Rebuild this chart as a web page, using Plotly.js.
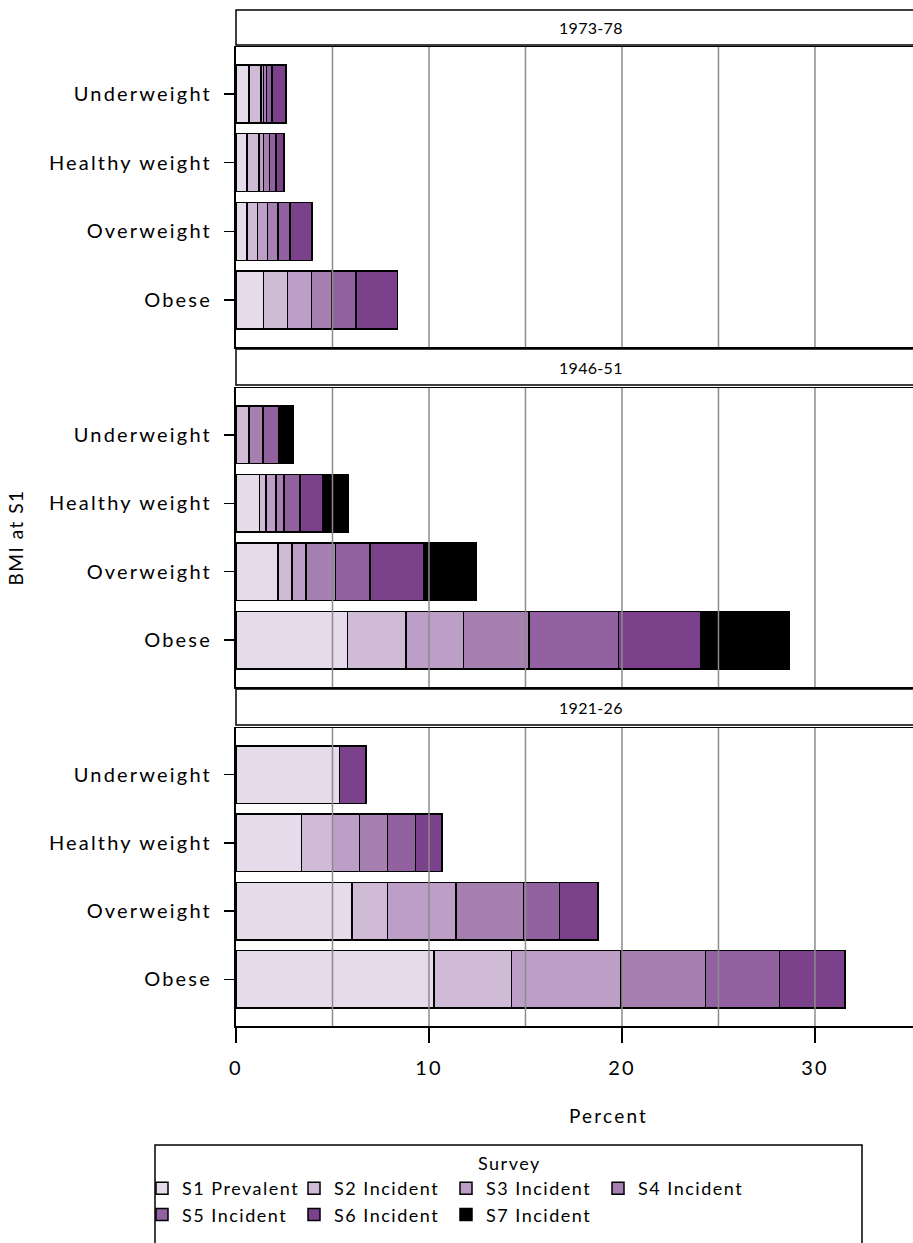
<!DOCTYPE html>
<html><head><meta charset="utf-8">
<script src="https://cdn.plot.ly/plotly-3.0.1.min.js"></script>
<style>
html,body{margin:0;padding:0;background:#fff;overflow:hidden}
text{letter-spacing:2.2px}
.legend text{letter-spacing:1.5px}
.g-y2title text{letter-spacing:1.5px}
</style></head><body>
<div id="chart" style="width:913px;height:1243px"></div>
<script>
// ---- data ----
const categories = ['Underweight', 'Healthy weight', 'Overweight', 'Obese'];
const panelLabels = ['1973-78', '1946-51', '1921-26'];
const seriesNames = ['S1 Prevalent', 'S2 Incident', 'S3 Incident', 'S4 Incident', 'S5 Incident', 'S6 Incident', 'S7 Incident'];
const seriesColors = ['#e6dbea', '#d0bbd6', '#bc9ec6', '#a680b0', '#9262a0', '#7b428b', '#000000'];
// rows = S1..S7, columns = categories
const values1973 = [
  [0.67, 0.57, 0.57, 1.42],
  [0.63, 0.63, 0.54, 1.24],
  [0.12, 0.23, 0.52, 1.26],
  [0.15, 0.30, 0.55, 1.04],
  [0.30, 0.33, 0.61, 1.25],
  [0.73, 0.43, 1.14, 2.17],
  [null, null, null, null]
];
const values1946 = [
  [null, 1.23, 2.18, 5.79],
  [0.68, 0.32, 0.73, 3.03],
  [null, 0.53, 0.72, 2.98],
  [0.73, 0.40, 1.53, 3.37],
  [0.83, 0.83, 1.78, 4.66],
  [null, 1.21, 2.78, 4.26],
  [0.75, 1.29, 2.73, 4.60]
];
const values1921 = [
  [5.35, 3.40, 6.00, 10.25],
  [null, 1.60, 1.85, 4.02],
  [null, 1.40, 3.55, 5.69],
  [null, 1.45, 3.50, 4.37],
  [null, 1.46, 1.87, 3.84],
  [1.38, 1.36, 1.98, 3.39],
  [null, null, null, null]
];
const xTickVals = [0, 10, 20, 30];
const gridVals = [5, 10, 15, 20, 25, 30];
const xMax = 35.08;

// ---- geometry helpers (pixels -> paper) ----
const W = 913, H = 1243, L = 236, T = 10, B = 1026;
const py = p => (B - p) / (B - T);
const px = p => (p - L) / (W - L);

const panelValues = [values1973, values1946, values1921];
const panelPix = [[47, 347], [388, 687], [728, 1026]];
const stripPix = [[10, 45], [349, 385], [689, 725]];
const axSuffix = ['', '2', '3'];

const traces = [];
const shown = {};
panelValues.forEach((vals, pi) => {
  vals.forEach((row, si) => {
    const has = row.some(v => v !== null);
    if (!has) return;
    const show = !shown[si];
    shown[si] = true;
    traces.push({
      type: 'bar', orientation: 'h',
      y: categories, x: row,
      name: seriesNames[si],
      legendgroup: seriesNames[si],
      legendrank: si + 1,
      showlegend: show,
      xaxis: 'x' + axSuffix[pi], yaxis: 'y' + axSuffix[pi],
      marker: {color: seriesColors[si], line: {color: '#000', width: 1.5}},
      hovertemplate: panelLabels[pi] + ', %{y}<br>' + seriesNames[si] + ': %{x}%<extra></extra>'
    });
  });
});

const layout = {
  width: W, height: H,
  margin: {l: L, r: 0, t: T, b: H - B, autoexpand: false},
  paper_bgcolor: '#fff', plot_bgcolor: '#fff',
  font: {family: 'Lato, sans-serif', size: 20, color: '#000'},
  barmode: 'stack', bargap: 0.155,
  showlegend: true,
  legend: {
    orientation: 'h', xanchor: 'center', yanchor: 'top',
    x: px(446), y: py(1170),
    entrywidth: 107, entrywidthmode: 'pixels',
    bgcolor: 'rgba(0,0,0,0)', borderwidth: 0,
    font: {size: 18}, traceorder: 'normal'
  },
  annotations: [],
  shapes: []
};

panelPix.forEach((pp, pi) => {
  const s = axSuffix[pi];
  layout['xaxis' + s] = {
    anchor: 'y' + s, range: [0, xMax],
    showgrid: false, zeroline: false,
    showline: true, linecolor: '#000', linewidth: 1.5, mirror: true,
    tickvals: xTickVals,
    ticks: pi === 2 ? 'outside' : '', ticklen: 15, tickwidth: 1.2, tickcolor: '#000',
    showticklabels: pi === 2, ticklabelstandoff: 8,
    tickfont: {size: 20}
  };
  layout['yaxis' + s] = {
    anchor: 'x' + s, domain: [py(pp[1]), py(pp[0])],
    type: 'category', categoryorder: 'array', categoryarray: categories,
    range: [3.684, -0.684],
    showgrid: false, zeroline: false,
    showline: true, linecolor: '#000', linewidth: 2,
    ticks: 'outside', ticklen: 10, tickwidth: 1.5, tickcolor: '#000',
    ticklabelstandoff: 8, tickfont: {size: 20}
  };
  // grid lines drawn above the bars
  gridVals.forEach(g => {
    layout.shapes.push({
      type: 'line', layer: 'above',
      xref: 'x' + s, x0: g, x1: g,
      yref: 'y' + s + ' domain', y0: 0, y1: 1,
      line: {color: '#8c8c8c', width: 1.5}
    });
  });
  // strip header
  const sp = stripPix[pi];
  layout.shapes.push({
    type: 'rect', layer: 'below', xref: 'paper', yref: 'paper',
    x0: 0, x1: 1.2, y0: py(sp[1]), y1: py(sp[0]),
    line: {color: '#000', width: 1.5}, fillcolor: '#fff'
  });
  layout.annotations.push({
    xref: 'paper', yref: 'paper', x: px(591), y: py((sp[0] + sp[1]) / 2),
    xanchor: 'center', yanchor: 'middle', showarrow: false,
    text: '<span style="letter-spacing:0.3px">' + panelLabels[pi] + '</span>', font: {size: 16}
  });
});

layout.yaxis2.title = {text: 'BMI at S1', standoff: 20, font: {size: 19}};

layout.annotations.push({
  xref: 'paper', yref: 'paper', x: px(608), y: py(1115),
  xanchor: 'center', yanchor: 'middle', showarrow: false,
  text: 'Percent', font: {size: 19}
});
layout.annotations.push({
  xref: 'paper', yref: 'paper', x: px(509), y: py(1163),
  xanchor: 'center', yanchor: 'middle', showarrow: false,
  text: '<span style="letter-spacing:1.5px">Survey</span>', font: {size: 18}
});
// legend frame
layout.shapes.push({
  type: 'rect', xref: 'paper', yref: 'paper',
  x0: px(155), x1: px(862), y0: py(1246), y1: py(1145),
  line: {color: '#000', width: 1.5}
});

Plotly.newPlot('chart', traces, layout, {displayModeBar: false, staticPlot: true});
</script>
</body></html>
